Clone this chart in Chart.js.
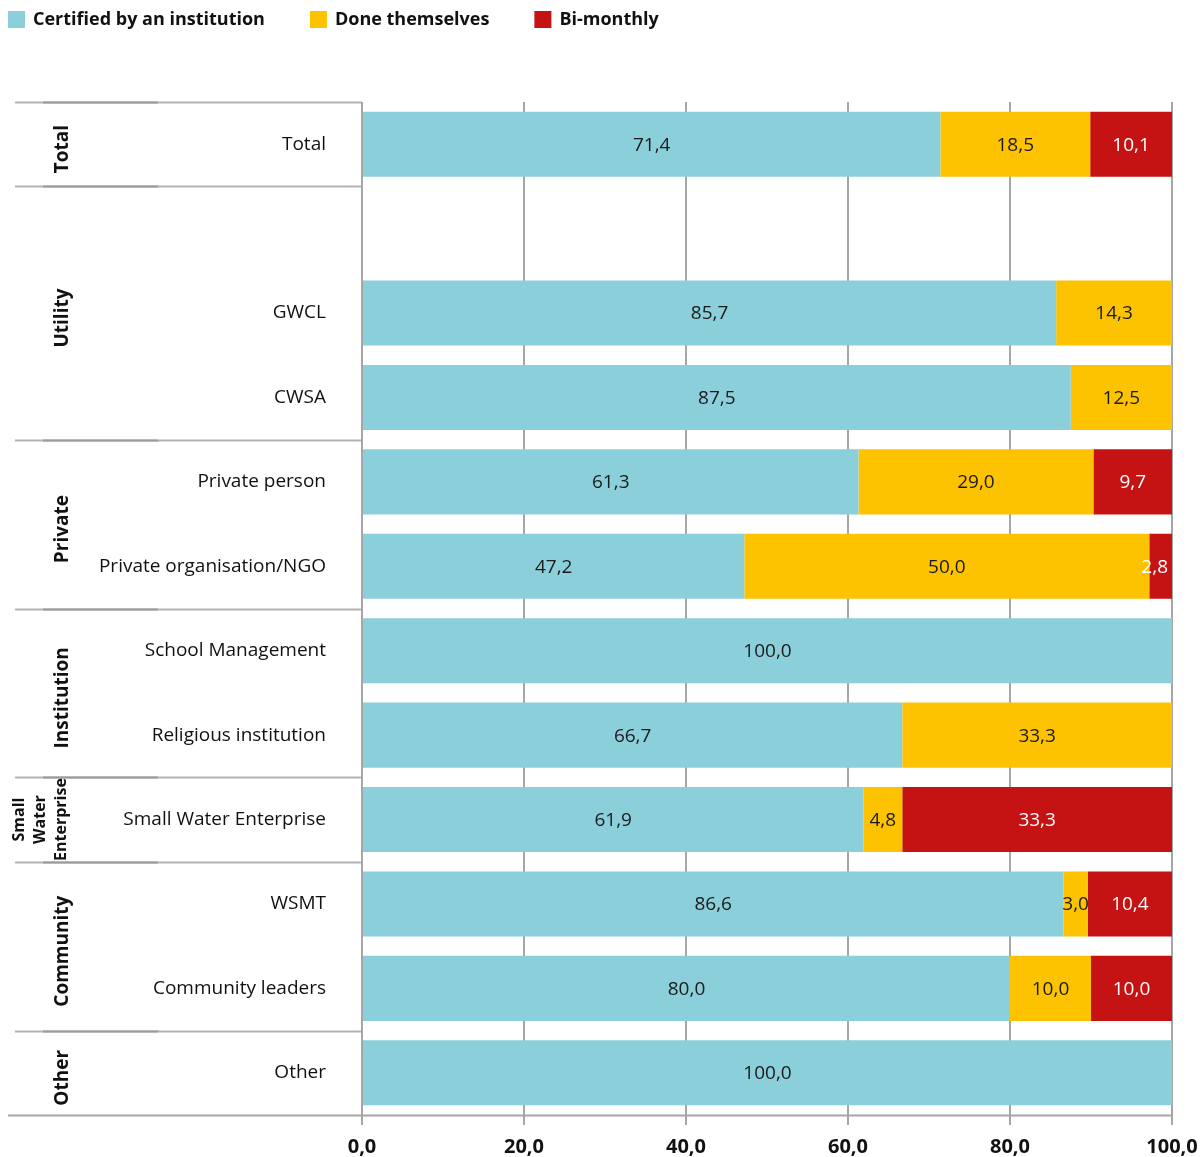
<!DOCTYPE html>
<html>
<head>
<meta charset="utf-8">
<script src="https://cdn.jsdelivr.net/npm/chart.js@4.4.0/dist/chart.umd.min.js"></script>
<style>
  html, body { margin: 0; padding: 0; background: #fff; }
  #wrap { position: relative; width: 1200px; height: 1157px; }
</style>
</head>
<body>
<div id="wrap"><canvas id="chart" width="1200" height="1157"></canvas></div>
<script>
// categories (blank slot keeps the gap under "Total")
const categories = ["Total", "", "GWCL", "CWSA", "Private person", "Private organisation/NGO",
  "School Management", "Religious institution", "Small Water Enterprise", "WSMT",
  "Community leaders", "Other"];

const certified = [71.4, null, 85.7, 87.5, 61.3, 47.2, 100.0, 66.7, 61.9, 86.6, 80.0, 100.0];
const doneThemselves = [18.5, null, 14.3, 12.5, 29.0, 50.0, null, 33.3, 4.8, 3.0, 10.0, null];
const biMonthly = [10.1, null, null, null, 9.7, 2.8, null, null, 33.3, 10.4, 10.0, null];

const seriesNames = ["Certified by an institution", "Done themselves", "Bi-monthly"];
const seriesColors = ["#8BCFDA", "#FDC300", "#C51213"];
const labelColors = ["#1a1a1a", "#1a1a1a", "#ffffff"];

const xTicks = [0, 20, 40, 60, 80, 100];

// groups: label lines, first row index, last row index
const groups = [
  { lines: ["Total"], from: 0, to: 0 },
  { lines: ["Utility"], from: 1, to: 3 },
  { lines: ["Private"], from: 4, to: 5 },
  { lines: ["Institution"], from: 6, to: 7 },
  { lines: ["Small", "Water", "Enterprise"], from: 8, to: 8 },
  { lines: ["Community"], from: 9, to: 10 },
  { lines: ["Other"], from: 11, to: 11 }
];

const FONT = "'Open Sans', 'DejaVu Sans', sans-serif";
const fmt = v => v.toFixed(1).replace(".", ",");

const decorPlugin = {
  id: "decor",
  afterDatasetsDraw(chart) {
    const ctx = chart.ctx;
    // values inside the segments
    ctx.save();
    ctx.font = "19px " + FONT;
    ctx.textAlign = "center";
    ctx.textBaseline = "middle";
    chart.data.datasets.forEach((ds, di) => {
      const meta = chart.getDatasetMeta(di);
      meta.data.forEach((bar, i) => {
        const v = ds.data[i];
        if (v == null) return;
        const p = bar.getProps(["x", "y", "base"], true);
        let cx = (p.x + p.base) / 2;
        const w = ctx.measureText(fmt(v)).width;
        if (cx + w / 2 > chart.chartArea.right - 4) cx = chart.chartArea.right - 4 - w / 2;
        ctx.fillStyle = labelColors[di];
        ctx.fillText(fmt(v), cx, p.y + 1);
      });
    });
    ctx.restore();
  },
  afterDraw(chart) {
    const ctx = chart.ctx;
    const area = chart.chartArea;
    const rowH = (area.bottom - area.top) / categories.length;
    ctx.save();

    // left table frame: group separators
    const seps = [area.top];
    groups.forEach(g => seps.push(area.top + rowH * (g.to + 1)));
    ctx.lineWidth = 2;
    seps.forEach((sy, k) => {
      const yy = Math.round(sy) + 0.5;
      if (k === seps.length - 1) {
        ctx.strokeStyle = "#a6a6a6";
        ctx.beginPath(); ctx.moveTo(8, yy); ctx.lineTo(area.right, yy); ctx.stroke();
      } else {
        ctx.strokeStyle = "#b3b3b3";
        ctx.beginPath(); ctx.moveTo(15, yy); ctx.lineTo(area.left, yy); ctx.stroke();
        ctx.strokeStyle = "#9a9a9a";
        ctx.beginPath(); ctx.moveTo(43, yy); ctx.lineTo(158, yy); ctx.stroke();
      }
    });
    // vertical frame line at zero
    ctx.strokeStyle = "#a6a6a6";
    ctx.beginPath(); ctx.moveTo(area.left, area.top); ctx.lineTo(area.left, area.bottom + 10); ctx.stroke();

    // group titles, rotated
    ctx.fillStyle = "#111";
    ctx.textAlign = "center";
    ctx.textBaseline = "middle";
    groups.forEach(g => {
      const cy = (area.top + rowH * g.from + area.top + rowH * (g.to + 1)) / 2 + 5;
      const n = g.lines.length;
      ctx.save();
      if (n > 1) {
        ctx.font = "bold 16px " + FONT;
        ctx.translate(40, cy - 5);
      } else {
        ctx.font = "bold 19px " + FONT;
        ctx.translate(63, cy);
      }
      ctx.rotate(-Math.PI / 2);
      g.lines.forEach((t, k) => {
        ctx.fillText(t, 0, (k - (n - 1) / 2) * 21);
      });
      ctx.restore();
    });

    // legend
    ctx.font = "bold 18px " + FONT;
    ctx.textAlign = "left";
    ctx.textBaseline = "middle";
    let lx = 8;
    seriesNames.forEach((name, k) => {
      ctx.fillStyle = seriesColors[k];
      ctx.fillRect(lx, 11, 17, 17);
      ctx.fillStyle = "#111";
      ctx.fillText(name, lx + 25, 20);
      lx += 25 + ctx.measureText(name).width + 45;
    });
    ctx.restore();
  }
};

const noPad = s => {
  s.paddingLeft = 0; s.paddingRight = 0; s.paddingTop = 0; s.paddingBottom = 0;
};

const ctx = document.getElementById("chart").getContext("2d");
new Chart(ctx, {
  type: "bar",
  data: {
    labels: categories,
    datasets: [certified, doneThemselves, biMonthly].map((d, k) => ({
      label: seriesNames[k],
      data: d,
      backgroundColor: seriesColors[k],
      borderWidth: 0,
      barPercentage: 0.77,
      categoryPercentage: 1.0
    }))
  },
  options: {
    indexAxis: "y",
    responsive: false,
    animation: false,
    layout: { padding: { top: 102, right: 28, left: 0, bottom: 0 } },
    plugins: {
      legend: { display: false },
      tooltip: { enabled: false }
    },
    scales: {
      x: {
        stacked: true,
        min: 0,
        max: 100,
        afterBuildTicks: s => { s.ticks = xTicks.map(v => ({ value: v })); },
        afterFit: s => { s.height = 42; noPad(s); },
        grid: { color: "#a6a6a6", lineWidth: 2, tickLength: 10, drawOnChartArea: true },
        border: { display: false },
        ticks: {
          color: "#111",
          padding: 10,
          font: { family: FONT, size: 20, weight: "bold" },
          callback: v => fmt(v)
        }
      },
      y: {
        stacked: true,
        afterFit: s => { s.width = 362; noPad(s); },
        grid: { display: false, drawTicks: false },
        border: { display: false },
        ticks: {
          color: "#111",
          padding: 36,
          font: { family: FONT, size: 19 }
        }
      }
    }
  },
  plugins: [decorPlugin]
});
</script>
</body>
</html>
